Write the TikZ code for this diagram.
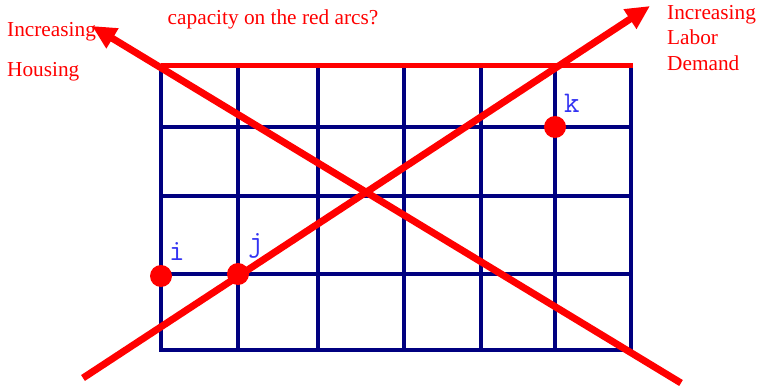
\documentclass[tikz,border=0pt]{standalone}
\usepackage{fontspec}
\setmainfont{Liberation Serif}
\usetikzlibrary{arrows.meta, calc, positioning}
\definecolor{gridnavy}{rgb}{0.0, 0.0, 0.5}
\definecolor{labelblue}{rgb}{0.2, 0.2, 0.95}

\begin{document}
\begin{tikzpicture}[x=1pt, y=-1pt]%
    \useasboundingbox (0,0) rectangle (759,387);
    \tikzset{
        gridline/.style={draw=gridnavy, line width=4.5pt},
        redarc/.style={draw=red, line width=5pt},
        trend/.style={draw=red, line width=7pt, -{Triangle[length=24pt, width=22pt]}},
        redtext/.style={text=red, inner sep=0pt, font=\fontsize{21.3}{25.5}\selectfont},
        nodelabel/.style={text=labelblue, inner sep=0pt, font=\ttfamily\fontsize{30}{30}\selectfont},
        dot/.style={circle, fill=red, minimum size=22pt, inner sep=0pt},
    }
    % grid columns and rows (in px)
    \def\cols{161,238,318,404,481,555,631}
    \def\rows{66,127,196,274,350}
    \foreach \x [count=\c from 0] in \cols {
        \foreach \y [count=\r from 0] in \rows {
            \coordinate (g-\c-\r) at (\x, \y);
        }
    }
    % vertical lines
    \foreach \c in {0,...,6}{
        \draw [gridline] (g-\c-0) -- (g-\c-4);
    }
    % horizontal lines
    \foreach \r in {1,...,4}{
        \draw [gridline] ([xshift=-2pt]g-0-\r) -- ([xshift=2pt]g-6-\r);
    }
    \draw [redarc] (g-0-0) -- ([xshift=2pt]g-6-0);

    \node (nI) [dot] at (161,276) {};
    \node (nJ) [dot] at (g-1-3) {};
    \node (nK) [dot] at (g-5-1) {};
    \node (lI) [nodelabel, above right=15pt and 8pt of nI.center] {i};
    \node (lJ) [nodelabel, above right=15pt and 10pt of nJ.center] {j};
    \node (lK) [nodelabel, above right=14pt and 9pt of nK.center] {k};

    \coordinate (laborStart) at (83,378);
    \coordinate (laborTip) at (650,6);
    \coordinate (housingStart) at (681,383);
    \coordinate (housingTip) at (92,26);
    \draw [trend] (laborStart) -- (laborTip);
    \draw [trend] (housingStart) -- (housingTip);

    \node (incH) [redtext, anchor=west] at (7,32) {Increasing};
    \node (hous) [redtext, anchor=west] at (7,72) {Housing};
    \node (quest) [redtext] at (273,19) {capacity on the red arcs?};
    \node (labor) [redtext, anchor=west, align=left] at (667,38) {Increasing\\ Labor\\ Demand};
\end{tikzpicture}
\end{document}
